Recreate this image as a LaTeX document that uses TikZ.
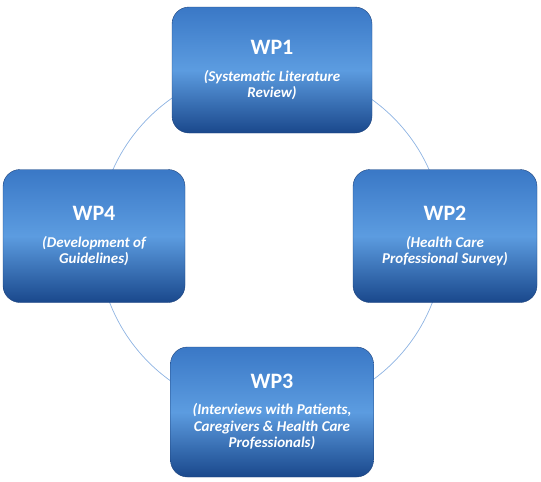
\documentclass[tikz,border=0pt]{standalone}
\usepackage{fontspec}
\setmainfont{Carlito}
\usepackage{tikz}
\usetikzlibrary{positioning,calc}

\definecolor{wptop}{RGB}{58,120,198}
\definecolor{wpmid}{RGB}{92,156,224}
\definecolor{wpbot}{RGB}{26,72,140}
\definecolor{wpedge}{RGB}{30,68,126}
\definecolor{ringblue}{RGB}{141,179,226}

% title line, then the subtitle lines in the node font
\newcommand{\wptext}[2]{\fontsize{22}{26}\selectfont\bfseries\upshape #1\\[10pt]#2}

\begin{document}
\begin{tikzpicture}[x=1pt,y=-1pt,
  wpbox/.style={rounded corners=17pt, top color=wptop, bottom color=wpbot, middle color=wpmid,
    draw=wpedge, text=white, align=center, inner sep=2pt,
    font=\fontsize{15}{16.5}\selectfont\bfseries\itshape},
  ringline/.style={draw=ringblue, line width=0.7pt}]
\useasboundingbox (0,0) rectangle (541,482);
\coordinate (ring) at (271,240);
\draw[ringline] (ring) circle[radius=173pt];
\node[wpbox, minimum width=200pt, minimum height=126pt] (wpone) at (272,70)
  {\wptext{WP1}{(Systematic Literature\\Review)}};
\node[wpbox, minimum width=184pt, minimum height=133pt] (wptwo) at (445,236)
  {\wptext{WP2}{(Health Care\\Professional Survey)}};
\node[wpbox, minimum width=203pt, minimum height=130pt] (wpthree) at (272,412)
  {\wptext{WP3}{(Interviews with Patients,\\Caregivers \& Health Care\\Professionals)}};
\node[wpbox, minimum width=182pt, minimum height=133pt] (wpfour) at (94,236)
  {\wptext{WP4}{(Development of\\Guidelines)}};
\end{tikzpicture}
\end{document}
